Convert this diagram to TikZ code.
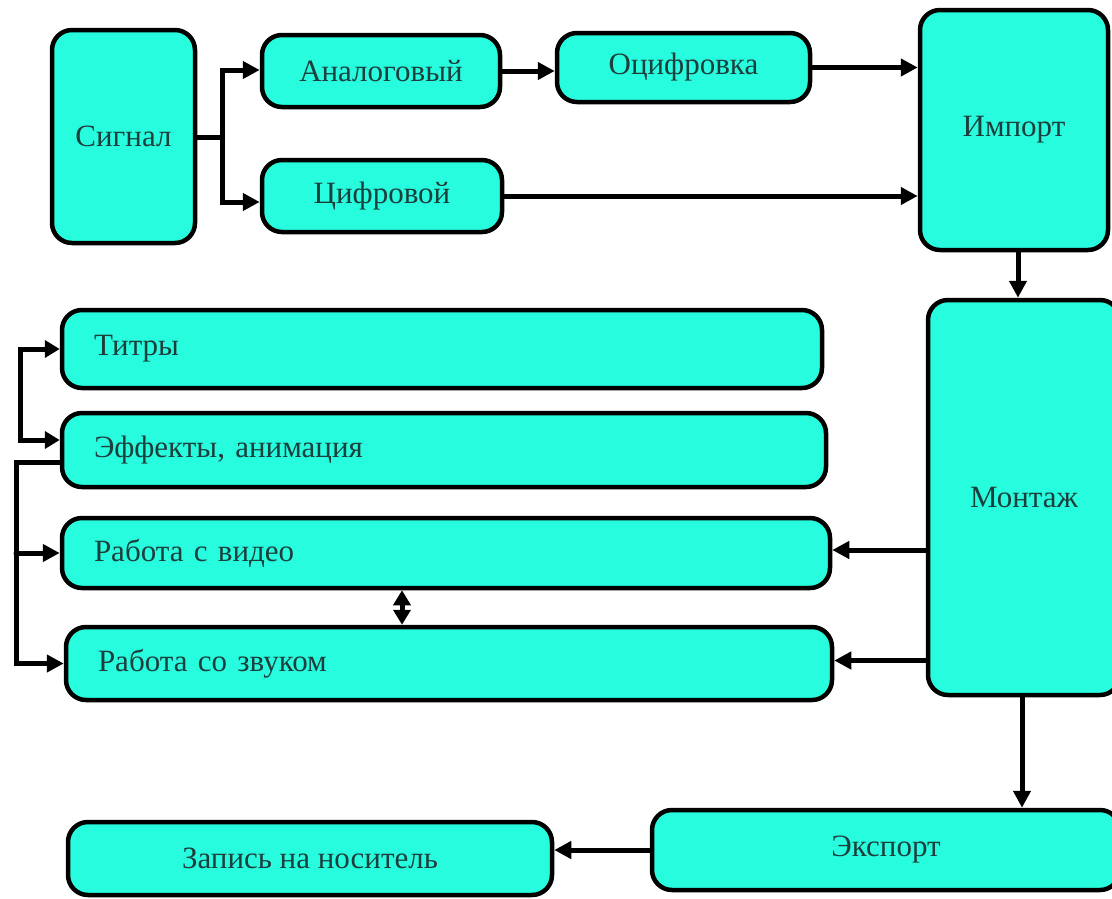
\documentclass[tikz,border=0pt]{standalone}
\usepackage{fontspec}
\setmainfont{Liberation Serif}
\usetikzlibrary{arrows.meta, positioning, calc}
\definecolor{boxfill}{RGB}{40,252,222}
\definecolor{boxtext}{RGB}{28,62,60}

\begin{document}
\begin{tikzpicture}[x=1pt, y=-1pt, line cap=round,
    box/.style={draw, line width=4.5pt, rounded corners=20pt, fill=boxfill, text=boxtext, inner sep=0pt, font=\fontsize{31}{36}\selectfont},
    wide/.style={box, align=left, inner xsep=32pt, minimum height=#1},
    conn/.style={line width=5pt, -{Triangle[length=17pt,width=17pt]}},
    biconn/.style={line width=5pt, {Triangle[length=15pt,width=17pt]}-{Triangle[length=15pt,width=17pt]}},
    line/.style={line width=5pt}]
                \useasboundingbox (0,0) rectangle (1112,898);
                \fill[white] (0,0) rectangle (1112,898);

                \node[box, minimum width=143pt, minimum height=213pt] (signal) at (123.5,136.5) {Сигнал};
                \node[box, minimum width=238pt, minimum height=72pt] (analog) at (381,71) {Аналоговый};
                \node[box, minimum width=253pt, minimum height=69pt] (digitize) at (683.5,67.5) {Оцифровка};
                \node[box, minimum width=240pt, minimum height=72pt] (digital) at (382,196) {Цифровой};
                \node[box, minimum width=188pt, minimum height=240pt] (import) at (1014,130) {Импорт};
                \node[box, minimum width=192pt, minimum height=395pt] (montage) at (1024,497.5) {Монтаж};

                \node[wide=78pt, text width=696pt] (titles) at (442,349) {Титры};
                \node[wide=74pt, text width=700pt] (effects) at (444,450) {Эффекты, анимация};
                \node[wide=70pt, text width=704pt] (video) at (446,553) {Работа с видео};
                \node[wide=73pt, text width=702pt] (sound) at (449,663.5) {Работа со звуком};

                \node[box, minimum width=468pt, minimum height=80pt] (export) at (886,850) {Экспорт};
                \node[box, minimum width=484pt, minimum height=73pt] (record) at (310,858.5) {Запись на носитель};

                % top part
                \coordinate (split) at (222,137);
                \draw[line] (signal.east |- split) -- (split);
                \draw[conn] (split) |- ([yshift=1pt]analog.west);
                \draw[conn] (split) |- ([yshift=-6pt]digital.west);
                \draw[conn] (analog.east) -- (analog.east -| digitize.west);
                \draw[conn] (digitize.east) -- (digitize.east -| import.west);
                \draw[conn] (digital.east) -- (digital.east -| import.west);
                \draw[conn] (import.south -| 1018,0) -- (montage.north -| 1018,0);

                % left buses
                \coordinate (lbus) at (20,400);
                \coordinate (lbus2) at (16,600);
                \draw[biconn] (titles.west) -| (lbus) |- ([yshift=10pt]effects.west);
                \draw[conn] ([yshift=-12pt]effects.west) -| (lbus2) |- (sound.west);
                \draw[conn] (video.west -| lbus2) -- (video.west);
                \draw[biconn] (video.south -| 402,0) -- (sound.north -| 402,0);

                % montage outputs
                \draw[conn] ([yshift=3pt]montage.west |- video.east) -- ([yshift=3pt]video.east);
                \draw[conn] ([yshift=3pt]montage.west |- sound.east) -- ([yshift=3pt]sound.east);
                \draw[conn] (montage.south -| 1022,0) -- (export.north -| 1022,0);
                \draw[conn] (export.west) -- (export.west -| record.east);
            \end{tikzpicture}
\end{document}
